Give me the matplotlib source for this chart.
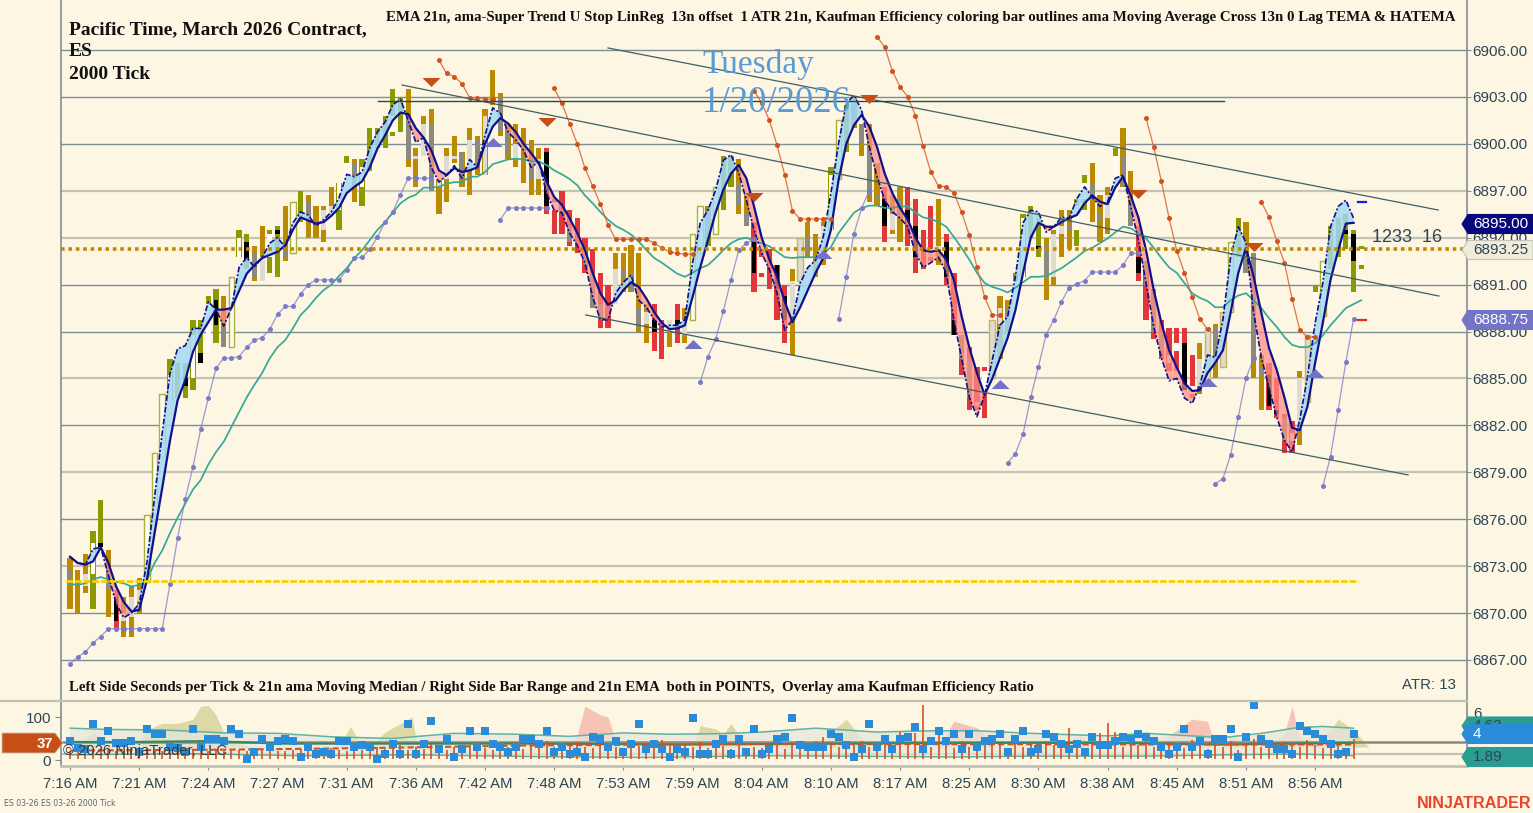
import numpy as np
import matplotlib
matplotlib.use("Agg")
import matplotlib.pyplot as plt
from matplotlib.patches import Polygon
from matplotlib.lines import Line2D

W, H = 1533, 813
BG = '#fdf6e3'
INK = '#2c4656'

times = ["7:16 AM","7:21 AM","7:24 AM","7:27 AM","7:31 AM","7:36 AM","7:42 AM","7:48 AM","7:53 AM","7:59 AM",
         "8:04 AM","8:10 AM","8:17 AM","8:25 AM","8:30 AM","8:38 AM","8:45 AM","8:51 AM","8:56 AM"]
n = float('nan')

highs = [6873.5,6872.75,6873.75,6875.25,6877.25,6874,6871.5,6871,6871.75,6872.25,
 6876.25,6880.25,6884,6886.25,6886,6886,6888.75,6888.75,6890.25,6890.75,
 6890.25,6891.5,6894.5,6894.25,6893.5,6894.75,6894.5,6894.75,6896,6896.25,
 6897,6896.75,6896,6896,6897.25,6897.5,6899.25,6899,6899,6901,
 6901,6901.75,6903.5,6903,6903.5,6899.75,6901.75,6902.25,6897.75,6899.75,
 6900.5,6899.5,6901,6900.5,6902.25,6904.75,6903.25,6901.25,6901.25,6901,
 6900.25,6899.75,6899.75,6896.5,6897,6895.75,6895.25,6894,6893.25,6891.75,
 6891,6893,6893,6893.5,6893,6889.75,6889.75,6888.75,6888.75,6889.75,
 6889.5,6894.25,6896,6896,6897.25,6899.25,6899.25,6899,6896.75,6895,
 6893.25,6893.25,6892.25,6891,6892,6894,6895,6894.25,6895,6898.5,
 6901.5,6902.5,6903,6901.25,6901.25,6898.75,6897.25,6896.75,6897.25,6897.25,
 6896.5,6894.5,6896,6896.5,6894.25,6891.75,6887.75,6887,6885.75,6885.75,
 6888.75,6890.25,6890,6891.75,6895.5,6896,6895.25,6894,6894.5,6895.75,
 6895.75,6896.5,6898,6898.75,6896.75,6897.25,6899.75,6901,6898.25,6894.75,
 6892.5,6890.75,6888.75,6888.25,6888.25,6888.25,6886.5,6887.25,6888.25,6888.5,
 6889.25,6893.75,6895.25,6895,6893,6886.5,6886,6885,6882.75,6882.25,
 6885.5,6887.75,6891,6892.5,6894.75,6895.25,6895.5,6894.5,6893.5]
lows = [6870.25,6870,6871.25,6870.25,6874.25,6869.75,6869,6868.5,6868.5,6870,
 6872,6876.25,6880,6883.5,6883.75,6883.75,6884.25,6886,6886.75,6887.25,
 6887,6887,6892.75,6892,6891.25,6891.25,6891.75,6891.5,6892.5,6893,
 6895,6894,6894,6893.75,6895.5,6894.5,6897.25,6896.25,6896,6898.25,
 6899.75,6899.75,6900.5,6900.75,6898.5,6897.25,6899.25,6897,6895.5,6896.25,
 6898.75,6897.25,6896.75,6898,6898,6902.5,6900.5,6899,6898.5,6897.5,
 6896.75,6896.75,6895.5,6894.25,6894.25,6893.5,6893,6891.75,6889.5,6888.25,
 6888.25,6889.75,6890.5,6890.5,6888,6887.25,6886.75,6886.25,6887,6887.25,
 6887.25,6888.75,6893,6893.5,6894.25,6895.75,6897.25,6895.5,6894.75,6890.5,
 6891.5,6890.75,6888.75,6887.25,6886.5,6891.25,6892.75,6891.5,6892.25,6894.5,
 6897.75,6899.5,6901,6899.25,6896.25,6896,6893.75,6894.25,6893.75,6893.5,
 6891.75,6892,6892.5,6892.25,6891,6887.75,6885.25,6883,6883,6882.5,
 6885,6886.25,6887.75,6888.25,6891.5,6894,6892.75,6890,6891,6892.75,
 6893.25,6893.5,6895.75,6895,6893.75,6894.25,6896.5,6897.25,6894.75,6891.25,
 6888.75,6887.5,6886.25,6885.5,6885.5,6884.25,6883.75,6884,6884.75,6885,
 6885.75,6889.25,6892.75,6891.75,6885,6883,6883,6882.5,6880.25,6880.25,
 6880.75,6883.5,6887,6889,6892,6892.75,6893.25,6890.5,6892]
body_hi = [6872.75,n,6872.5,6874.5,6874.5,6872.75,6871,6870,6871,6871.5,
 6876.25,6880.25,6884,6885.25,n,6885,6887.75,6886.6,6889.75,6890,
 6888.25,6891.5,6894,6893.75,6893,6892.75,6894.25,6894.5,6893.25,6896.25,
 n,6896.25,n,6895.75,6896,6897.5,6898.75,6898.75,6898.5,n,
 n,n,6901.75,n,6901.75,6899.25,6901.25,6901.25,6897.75,6899.25,
 6899.25,6899.5,6900.25,6900.25,6901.75,n,6903,6900.75,6900,n,
 6898.75,6899,6899.5,6896.25,n,6894.75,n,6893.25,6891.75,6889.75,
 n,6892,6892,6891.75,6889.5,6889.25,6888.75,n,6888.75,6888.75,
 6888.75,6894.25,6896,6895.75,6897.25,n,n,6897.5,6895.5,6893.75,
 6892.75,n,6892.25,6890.25,6891.25,6894,6894,n,6894.75,6898,
 6901.5,n,6902.5,6901.25,6899.75,6896.75,6896.5,6895.5,6896.5,6895.75,
 6894.75,n,6893.25,6893.5,6893.75,6888.75,6887.75,6886.25,6883.5,6885.5,
 6888.75,6889.5,6889.5,6891.25,6895.25,n,6893.5,6893.5,6894.25,6894.75,
 6894.75,6896,6897.5,6897.5,6895.5,6896.75,6899.25,6899.25,6896.25,6892.75,
 6892.5,6890.75,6888,6886.5,6887.25,6887.25,6884.5,6886.25,6888.25,6888.25,
 6889.25,6893.75,n,6893,6893,6885.75,6885.25,6883,6882.5,6881.5,
 6885,6887.75,6890.5,6892.5,n,n,6894.5,6894.25,6893.25]
body_lo = [6871.75,n,6871.75,6872.5,6874.25,6871.5,6869.5,6869.5,6869.75,6870.75,
 6872,6876.25,6880,6883.5,n,6884.5,6885,6886,6886.75,6888.4,
 6887,6887,6892.75,6892.5,6891.5,6891.25,6892.75,6894.25,6892.75,6893,
 n,6895,n,6894.5,6895.5,6895.75,6897.25,6897.5,6897.25,n,
 n,n,6900.75,n,6899,6899,6899.25,6897,6897.25,6897.75,
 6899,6897.75,6898.5,6898.5,6898,n,6900.75,6899.25,6899,n,
 6897.75,6897.75,6896,6895.75,n,6893.75,n,6892.25,6889.5,6888.75,
 n,6889.75,6891.5,6890.5,6888.25,6888.5,6888,n,6888,6888.25,
 6887.75,6888.75,6893,6894,6894.25,n,n,6896,6894.75,6891.75,
 6891.75,n,6890.75,6888.75,6888.75,6891.25,6893,n,6893.25,6894.5,
 6897.75,n,6901.25,6900,6896.75,6896.5,6894.75,6894.5,6895.25,6895,
 6892.75,n,6892.75,6893.25,6891.5,6887.75,6886.25,6883.75,6883.25,6884,
 6885,6888.5,6888.5,6888.25,6891.5,n,6893.25,6891.5,6891.5,6894.25,
 6894.5,6894.5,6896.5,6896.5,6895,6895.25,6896.5,6897.25,6894.75,6891.75,
 6891,6888,6886.75,6886,6886.75,6884.25,6884,6884.5,6884.75,6886.25,
 6885.75,6889.25,n,6891.75,6886.5,6885.25,6883.25,6882.75,6881,6881,
 6881.75,6883.5,6887,6889,n,n,6894.25,6892.5,6892.25]
outline = ("GGGOOGRGGG" "OOOOOOOOOO" "GOOOGGOOGO" "OGGGGOOGOO" "OOOOGGGGGG"
           "GGGGGGGGGG" "GGRRRRRRRR" "RGGGGGRRGR" "GOOOOOOGGR" "RRRRGGGGGO"
           "OOGGGGRGGR" "RRRGRRRRRR" "GGGOOOOGGG" "GOOGGGOGGR" "RRRRRRRGGG"
           "GOOGGGRRRR" "GGOOOOOOO")
fill_kind = ("g-lwkgklll" "wwww-kwkwk" "gwwkglwkgw" "-g-llwwgw-" "--w-gllgll"
             "lglgl-ggl-" "glkw-g-ggg" "-lggglk-lk" "lwwgw--ggk" "w-kkllg-lw"
             "w-ggggklgk" "k-llkkgglw" "llgww-kgll" "gwwgglwggk" "ggglwkwllg"
             "lw-gggkkgl" "llww--kkw")

tema = [6873.6,6873.2,6873.1,6873.3,6874.2,6873.2,6871.7,6870.7,6870.1,6870.2,
 6872.1,6875.1,6878,6881,6883.6,6884.9,6886.7,6887.8,6888.6,6889.4,
 6889.4,6889.5,6890.6,6891.7,6892.25,6892.7,6892.9,6893.1,6893.5,6894.5,
 6895.3,6895.1,6894.9,6895,6895.4,6895.9,6896.85,6897.25,6897.6,6898.5,
 6899.7,6900.55,6901.5,6902,6901.9,6901,6900.4,6899.6,6898.3,6898,
 6898.45,6898.2,6898.3,6898.5,6900,6901.1,6901.65,6901.3,6900.75,6900,
 6899.4,6898.75,6897.6,6896.6,6896.1,6895.25,6894.3,6893.2,6891.75,6890.45,
 6889.7,6890,6890.65,6891.15,6890.85,6890.1,6889.25,6888.55,6888.15,6888.2,
 6888.4,6890.2,6892.1,6893.85,6895.6,6897.05,6898.1,6898.65,6897.8,6896,
 6894,6892.6,6891.5,6889.9,6888.6,6889.55,6890.65,6891.75,6892.7,6894.5,
 6897.7,6900,6901.2,6901.85,6901.1,6899.8,6898.1,6896.85,6895.9,6895.15,
 6894,6893.2,6893.1,6893.2,6892.6,6891.3,6889,6887,6885.35,6883.95,
 6885,6886.3,6887.6,6889.35,6891.75,6894,6894.95,6894.7,6894.7,6895,
 6895.25,6895.45,6896.2,6896.7,6896.3,6896.15,6897.2,6897.9,6896.7,6895.3,
 6893.2,6890.65,6888.55,6886.8,6885.7,6884.7,6884.2,6884.25,6885.35,6886,
 6886.8,6889.2,6891.75,6893.35,6891.5,6889.2,6886.95,6885.55,6883.8,6881.85,
 6881.7,6883.2,6886,6888.55,6891.3,6893.2,6894.9,6894.95]
hatema = [6873.6,6873.2,6873.1,6874.1,6874.2,6872.4,6870.6,6869.7,6870,6870.6,
 6873.2,6877.4,6881.5,6885.3,6886.9,6887.1,6888.2,6888.2,6889.9,6889.4,
 6888.35,6889.5,6892.1,6892.75,6892.1,6892.75,6893.65,6894,6893.4,6894.95,
 6895.65,6895.45,6894.75,6895.15,6895.65,6896.55,6898.05,6897.9,6898.2,6899.75,
 6900.75,6901.4,6902.5,6902.85,6901.5,6900.1,6900.4,6898.5,6897.55,6898,
 6898.6,6897.8,6899,6898.5,6900.55,6902.3,6901.95,6900.75,6900.25,6899.6,
 6898.5,6898.85,6896.85,6895.75,6895.6,6894.3,6893.5,6892.4,6890.2,6888.75,
 6888.75,6890.45,6891.15,6891.6,6890,6889.55,6888.75,6888.3,6888.4,6888.4,
 6888.75,6892.4,6894.95,6895.75,6897.05,6898.95,6899.3,6898.15,6896.4,6894.5,
 6893,6891.95,6890.45,6888.1,6888.75,6891.1,6892.1,6892.55,6894.05,6896.85,
 6900.05,6902.6,6903.1,6902.15,6899.8,6897.9,6896.4,6895.65,6895.25,6894.7,
 6893,6892.1,6892.4,6892.75,6891.75,6888.75,6886.3,6883.8,6882.55,6883.95,
 6886.2,6888.4,6888.95,6891.5,6894.95,6895.75,6895.65,6894.35,6894.7,6895.3,
 6895.25,6896.5,6897.25,6896.6,6896,6896.3,6897.8,6898,6896,6893.85,
 6891.1,6888.3,6886.3,6884.85,6885,6883.75,6883.4,6884.55,6886.5,6886.35,
 6888.75,6892.75,6894.7,6893.7,6889.2,6886.35,6884.4,6882.55,6881.05,6880.3,
 6882.35,6885.1,6888.55,6891.1,6894.7,6896,6896.4,6895.25]
ema = [6871.85,6871.8,6871.9,6872.15,6872.3,6872.15,6872,6871.9,6871.7,6871.8,
 6872.1,6873.2,6874,6875.1,6876.1,6877,6877.9,6878.5,6879.5,6880.3,
 6880.95,6881.9,6882.85,6883.8,6884.6,6885.35,6886.3,6887,6887.45,6888.2,
 6889.05,6889.55,6890.15,6890.65,6891,6891.55,6892.05,6892.7,6893.2,6893.85,
 6894.5,6895,6895.6,6896.2,6896.55,6896.75,6897.2,6897.2,6897.25,6897.45,
 6897.55,6897.55,6897.9,6897.9,6898.2,6898.7,6898.85,6899,6899.05,6899,
 6898.9,6898.85,6898.65,6898.3,6898.05,6897.75,6897.35,6896.7,6896.2,6895.65,
 6895.15,6894.75,6894.5,6894.2,6893.75,6893.2,6892.7,6892.4,6892.05,6891.7,
 6891.5,6891.75,6892.05,6892.25,6892.7,6893.2,6893.65,6893.9,6894,6893.8,
 6893.65,6893.45,6893.1,6892.75,6892.7,6892.75,6892.75,6892.75,6892.95,6893.4,
 6894.3,6894.95,6895.6,6895.9,6896.05,6896.05,6895.9,6895.9,6896,6896,
 6895.6,6895.3,6895.2,6895,6894.7,6894.05,6893.35,6892.6,6891.75,6891.1,
 6890.85,6890.7,6890.5,6890.8,6891.15,6891.5,6891.5,6891.55,6891.8,6892.05,
 6892.4,6892.75,6893.15,6893.35,6893.65,6893.95,6894.35,6894.7,6894.6,6894.3,
 6893.95,6893.35,6892.7,6892.1,6891.75,6891.1,6890.45,6890.15,6889.95,6889.55,
 6889.55,6890,6890.3,6890.45,6890,6889.5,6888.85,6888.3,6887.65,6887.15,
 6887,6887,6887.25,6887.75,6888.4,6888.95,6889.5,6889.75,6890]

stop_up = [
 (0, [6866.75,6867.2,6867.5,6868.1,6868.5,6869,6869,6869,6869,6869,6869,6869,6869,6871.85,6874.8,
      6877.3,6879.35,6881.75,6883.75,6885.65,6886.3,6886.3,6886.4,6887,6887.45,6887.6,6888.15,6889.1,6889.6,6889.6,
      6890.4,6891,6891.3,6891.3,6891.3,6891.3,6891.95,6892.7,6892.75,6893.25,6894.05,6895,6895.65,6896.75,6897.8,6897.8,6897.8,6897.8]),
 (56, [6895.15,6895.9,6895.9,6895.9,6895.9,6895.9,6895.9]),
 (82, [6884.75,6886.4,6887.5,6889.3,6891.3,6893.2,6893.65,6893.9]),
 (100, [6888.8,6891.5,6894.25,6895.9,6897]),
 (122, [6879.6,6880.2,6881.45,6883.8,6885.75,6887.8,6888.75,6889.9,6890.8,6891.05,6891.25,6891.8,6891.8,6891.8,6891.8,6892.25,6893,6893]),
 (149, [6878.25,6878.6,6880.1,6882.55,6885,6886.3]),
 (163, [6878.1,6880,6883,6886.05,6888.8]),
]
stop_dn = [
 (48, [6905.35,6904.5,6904.3,6903.85,6902.95,6902.95,6902.85,6902.85]),
 (63, [6903.55,6902.6,6901.3,6900,6898.45,6897.3,6896.15,6894.8,6893.9,6893.9,6893.9,6893.9,6893.9,6893.65,6893.35,6893.1,6893,6892.95,6892.95]),
 (89, [6903.4,6902.6,6901.5,6899.9,6898,6895.7,6895.2,6895.2,6895.2,6895.2,6895.2]),
 (105, [6906.85,6906.2,6904.65,6903.65,6903,6901.8,6899.85,6898.2,6897.3,6897.25,6896.85,6895.65,6894.15,6892.1,6890.2,6889.05,6889.05]),
 (140, [6901.65,6899.8,6897.6,6895.25,6893.15,6891.75,6890.2,6888.8,6888.15]),
 (155, [6896.3,6895.3,6893.8,6892.4,6890.1,6888.1,6887.65,6887.65]),
]
tri_dn_x = [47,62,89,104,139,154]
tri_dn_y = [6903.95,6901.4,6896.6,6902.85,6896.8,6893.4]
tri_up_x = [55,81,98,121,148,162]
tri_up_y = [6900.1,6887.2,6892.95,6884.65,6884.8,6885.35]

channels = [((70,178.0),(6906.13,6895.77)), ((43.2,178.1),(6903.76,6890.27)), ((67.1,174.1),(6889.06,6878.83))]
level_high = ((40.1,150.1),(6902.74,6902.74))
price_last = 6893.25
price_mark = 6872.05

squares = [44,27,25,84,44,67,39,39,44,19,
 73,60,60,31,27,19,73,31,49,49,
 44,73,60,1.5,19,49,31,44,49,44,
 6,31,15,19,15,44,44,31,35,31,
 1.5,15,36.5,15,84,15,36.5,91,25,49,
 6,25,67,31,67,36.5,31,19,31,49,
 49,36.5,67,19,31,15,19,6,54,49,
 31,44,19,36.5,84,25,36.5,25,6,25,
 19,97,15,15,36.5,49,15,49,19,73,
 15,25,49,54,97,35,31,31,31,60,
 54,35,6,25,84,31,49,25,49,54,
 77.5,25,44,67,44,60,25,60,31,44,
 49,60,19,49,67,19,25,60,54,36.5,
 25,36.5,19,54,35,35,44,54,49,60,
 54,44,31,15,31,73,31,44,15,49,
 49,73,6,54,127,49,36.5,25,25,15,
 79,67,60,49,36.5,15,19,60]
stems = [22,20,24,22,26,24,22,20,24,22,
 24,22,20,24,22,26,24,22,20,24,
 22,26,24,20,22,24,26,22,20,24,
 26,22,24,20,28,24,22,26,24,28,
 30,26,28,36,24,30,26,38,28,24,
 30,26,34,42,28,24,36,30,42,26,
 34,28,44,30,26,36,42,30,28,34,
 40,30,26,44,32,36,28,46,34,26,
 36,30,42,28,38,32,26,36,24,30,
 28,40,36,26,42,38,30,44,53,38,
 30,26,36,44,30,38,42,28,65,40,
 62,128,30,58,36,28,44,30,40,36,
 46,34,26,42,30,38,28,44,36,30,
 74,34,26,44,62,86,65,30,42,36,
 44,30,26,40,36,28,46,34,26,42,
 30,44,24,36,48,30,38,28,42,34,
 30,46,36,28,44,34,26,50]
band_top_x = [0,5,12,20,27,34,42,50,58,65,72,78,84,90,97,105,112,118,125,135,140,150,155,160,163,167]
band_top_y = [74,71,70,63,62,54,50,62,60,55,63,60,61,65,74,65,68,68,62,56,62,52,62,76,78,74]
band_low_x = [0,15,30,45,60,75,90,100,115,125,140,150,160,167]
band_low_y = [12,15,10,12,8,6,10,9,7,9,9,12,14,10]
green_x = [0,8,18,28,45,60,80,100,120,135,150,167]
green_y = [42,42,44,38,38,38,36,38,40,40,36,40]
range_ema_x = [0,20,40,60,85,110,140,167]
range_ema_y = [22,24,28,34,37,37,36,36]
khaki_x = [0,1,3,5,9,10,12,14,16,17,18,19,20,21,24,35,36.5,38,39,41,43,44.5,45,46,81,82,84,85,86,88,98,99,101,103,104,130,131.5,133,150,151,153,162,164,165,167,169]
khaki_y = [30,30,65,30,40,70,85,85,95,125,127,105,65,40,30,30,78,30,30,65,85,100,50,30,30,80,72,60,85,30,30,65,95,50,30,30,55,30,30,55,30,30,70,95,70,30]
pink_x = [61,62,63,65,66,67,69,70,71,72,90,91,92,93,94,95,113,115,118,119,120,141,144,146,148,149,156,158,159,160,162,163]
pink_y = [30,48,30,30,60,125,105,100,45,30,30,45,50,70,40,30,30,90,75,60,30,30,70,95,90,30,30,60,125,50,40,30]

y_ticks = [6867,6870,6873,6876,6879,6882,6885,6888,6891,6894,6897,6900,6903,6906]
light_grid = {6897,6885,6873,6879,6894}

plt.rcParams['font.family'] = ['Liberation Sans','DejaVu Sans']
fig = plt.figure(figsize=(W/100,H/100),dpi=100,facecolor=BG)
def rect(x0,y0,x1,y1):
    return [x0/W,1-y1/H,(x1-x0)/W,(y1-y0)/H]
def fx(x): return x/W
def fy(y): return 1-y/H

SP = '#7f8f95'
LBL = 11
ax = fig.add_axes(rect(61,0,1467,701),facecolor=BG)
ax.set_xlim((61-70)/7.686,(1467-70)/7.686)
ax.set_ylim(6906-(701-50)/15.64,6906+50/15.64)
for s in ['top','bottom']: ax.spines[s].set_visible(False)
for s in ['left','right']: ax.spines[s].set_color(SP); ax.spines[s].set_linewidth(1.2)
ax.yaxis.tick_right()
ax.set_yticks(y_ticks)
ax.set_yticklabels([f"{v:.2f}" for v in y_ticks],fontsize=LBL,color=INK)
ax.tick_params(axis='y',length=3,color=SP,pad=1)
ax.set_xticks([])
for v in y_ticks:
    ax.axhline(v,color='#c3c4b6' if v in light_grid else '#7d8e95',lw=1.6 if v in light_grid else 1.0,zorder=1)

OC = {'G':'#bb8a00','O':'#8a9a00','R':'#e2363a'}
FC = {'w':'#fffdf3','k':'#000000','g':'#8b8a7e','l':'#dedbcf'}
idx = np.arange(169)
ax.bar(idx,np.array(highs)-np.array(lows),bottom=lows,width=0.68,color=[OC[c] for c in outline],linewidth=0,zorder=2)
for i in idx:
    f = fill_kind[i]
    if f in FC and not np.isnan(body_hi[i]):
        full = body_hi[i]>=highs[i] and body_lo[i]<=lows[i]
        if full:
            ec = {'G':'#c9b468','O':'#a9b13a','R':'#e2363a'}[outline[i]]
            ax.bar(i,body_hi[i]-body_lo[i],bottom=body_lo[i],width=0.74,color=FC[f],edgecolor=ec,linewidth=1.0,zorder=2.5)
        else:
            ax.bar(i,body_hi[i]-body_lo[i],bottom=body_lo[i],width=0.62,color=FC[f],linewidth=0,zorder=2.5)

t_idx = np.arange(168)
t = np.array(tema); ha = np.array(hatema)
ax.fill_between(t_idx,t,ha,where=ha>=t,interpolate=True,color='#a3d9f5',alpha=0.84,linewidth=0,zorder=3)
ax.fill_between(t_idx,t,ha,where=ha<=t,interpolate=True,color='#ff8f84',alpha=0.72,linewidth=0,zorder=3)

ax.plot(idx,ema,color='#36a898',lw=1.25,zorder=4)
ax.plot(t_idx,hatema,color='#10108a',lw=1.2,ls=(0,(3.5,1.2,1.2,1.2)),zorder=5)
ax.plot(t_idx,tema,color='#10108a',lw=1.6,zorder=5)

for st,vals in stop_up:
    ax.plot(range(st,st+len(vals)),vals,color='#7a7ac8',lw=0.9,alpha=0.75,zorder=5.2)
    ax.plot(range(st,st+len(vals)),vals,ls='none',marker='o',ms=3.6,color='#7a7ac8',mew=0,zorder=5.3)
for st,vals in stop_dn:
    ax.plot(range(st,st+len(vals)),vals,color='#d8612c',lw=0.9,alpha=0.85,zorder=5.2)
    ax.plot(range(st,st+len(vals)),vals,ls='none',marker='o',ms=3.6,color='#d2521f',mew=0,zorder=5.3)

dn_m = [(-1,0.5),(1,0.5),(0,-0.5)]
up_m = [(-1,-0.5),(1,-0.5),(0,0.5)]
ax.plot(tri_dn_x,tri_dn_y,ls='none',marker=dn_m,ms=13,color='#c94d18',mew=0,zorder=6)
ax.plot(tri_up_x,tri_up_y,ls='none',marker=up_m,ms=13,color='#7272c6',mew=0,zorder=6)

for xs,ys in channels:
    ax.plot(xs,ys,color='#3f5f62',lw=0.9,zorder=5.5)
ax.plot(level_high[0],level_high[1],color='#1c4f52',lw=1.0,zorder=5.5)
ax.axhline(price_last,color='#c08a00',lw=2.6,ls=(0,(1,1.05)),zorder=5.6)
ax.plot([-0.5,167.6],[price_mark,price_mark],color='#f7cf00',lw=2.0,ls=(0,(2.4,0.7)),zorder=5.6)
ax.plot([167.6,168.6],[6896.3,6896.3],color='#1a1ae0',lw=1.6,zorder=6)
ax.plot([167.6,168.6],[6888.75,6888.75],color='#ef2020',lw=1.6,zorder=6)

serif = ['Liberation Serif','DejaVu Serif']
for yy,s in [(29.5,"Pacific Time, March 2026 Contract,"),(51.5,"ES"),(74.5,"2000 Tick")]:
    fig.text(fx(69),fy(yy),s,family=serif,fontweight='bold',fontsize=14,color='#111111',va='center',zorder=8)
fig.text(fx(1456),fy(17.5),"EMA 21n, ama-Super Trend U Stop LinReg  13n offset  1 ATR 21n, Kaufman Efficiency coloring bar outlines ama Moving Average Cross 13n 0 Lag TEMA & HATEMA",
         family=serif,fontweight='bold',fontsize=10.7,color='#111111',ha='right',va='center',zorder=8)
fig.text(fx(69),fy(687),"Left Side Seconds per Tick & 21n ama Moving Median / Right Side Bar Range and 21n EMA  both in POINTS,  Overlay ama Kaufman Efficiency Ratio",
         family=serif,fontweight='bold',fontsize=10.75,color='#111111',va='center',zorder=8)
fig.text(fx(1456),fy(685),"ATR: 13",fontsize=10.8,color=INK,ha='right',va='center',zorder=8)
fig.text(fx(702),fy(65),"Tuesday",family=serif,fontsize=24,color='#5b9bd5',va='center',zorder=8)
fig.text(fx(702),fy(103),"1/20/2026",family=serif,fontsize=26.5,color='#5b9bd5',va='center',zorder=8)
fig.text(fx(1372),fy(237),"1233  16",fontsize=13,color=INK,va='center',zorder=8)

# lower panel
v2y = 0.43
ax2 = fig.add_axes(rect(61,701,1467,766),facecolor=BG)
ax2.set_xlim(ax.get_xlim())
ax2.set_ylim(-6/v2y,59/v2y)
ax2.spines['top'].set_visible(False)
ax2.spines['bottom'].set_color('#c0c2b4'); ax2.spines['bottom'].set_linewidth(2)
for s in ['left','right']: ax2.spines[s].set_color(SP); ax2.spines[s].set_linewidth(1.2)
ax2.set_yticks([0,100]); ax2.set_yticklabels(['0','100'],fontsize=LBL,color=INK)
ax2.tick_params(axis='y',length=4,color=SP,pad=3)
ax2.set_xticks(np.arange(len(times))*9)
ax2.set_xticklabels(times,fontsize=10.7,color=INK)
ax2.tick_params(axis='x',length=3,color=SP,pad=5)
ax2.axhline(14,color='#c0c2b4',lw=1.6,zorder=1)
base = 30
ax2.fill_between(khaki_x,base,khaki_y,color='#dcd9a6',lw=0,zorder=2)
ax2.fill_between(pink_x,base,pink_y,color='#f6c4b6',lw=0,zorder=2)
ax2.fill(band_top_x+band_low_x[::-1],band_top_y+band_low_y[::-1],color='#e6e6dc',alpha=0.75,lw=0,zorder=2.2)
ax2.axhline(42,color='#8c8a78',lw=1.8,zorder=2.5)
ax2.plot(band_top_x,band_top_y,color='#5fb3a3',lw=1.1,zorder=3)
ax2.plot(band_low_x,band_low_y,color='#5fb3a3',lw=1.1,zorder=3)
ax2.plot(green_x,green_y,color='#2e8a60',lw=1.5,zorder=3)
ax2.vlines(t_idx,2,stems,color='#d2521f',lw=1.2,zorder=3.5)
ax2.plot(range_ema_x,range_ema_y,color='#d2521f',lw=1.5,ls=(0,(3,1.5)),zorder=3.6)
ax2.plot(t_idx,squares,ls='none',marker='s',ms=5.6,color='#2a8bd8',mew=0,zorder=4)

fig.add_artist(Line2D([0,fx(1467)],[fy(701),fy(701)],color='#c0c2b4',lw=1.6,zorder=2))
fig.text(fx(63),fy(751),"\u00a9 2026 NinjaTrader, LLC",fontsize=10.6,color='#3a3a3a',va='center',zorder=9)

def tag(y,fc,ec=None,h=19,x0=1462,x1=1533,z=7):
    pts = [(x0,y),(x0+6,y-h/2),(x1,y-h/2),(x1,y+h/2),(x0+6,y+h/2)]
    fig.add_artist(Polygon([(fx(a),fy(b)) for a,b in pts],closed=True,transform=fig.transFigure,facecolor=fc,edgecolor=ec or fc,lw=0.8,zorder=z))
def tagtxt(y,s,c,x=1473,z=8):
    fig.text(fx(x),fy(y),s,fontsize=LBL,color=c,va='center',zorder=z)
tag(224,'#08087c'); tagtxt(224,"6895.00",'white')
tag(250,'#f1ebdb','#c4c4b4'); tagtxt(250,"6893.25",INK)
tag(320,'#7474c6'); tagtxt(320,"6888.75",'white')
fig.text(fx(1473),fy(714),"6",fontsize=LBL,color=INK,va='center',zorder=6)
tag(726,'#2a9d90',h=18,z=7); tagtxt(726,"4.63",INK,z=7.1)
tag(757,'#2a9d90',h=19,z=7); tagtxt(757,"1.89",INK,z=7.1)
tag(734,'#2a8bd8',h=19,z=7.5); tagtxt(734,"4",'white',z=8)
pts = [(2,733),(55,733),(63,743),(55,753),(2,753)]
fig.add_artist(Polygon([(fx(a),fy(b)) for a,b in pts],closed=True,transform=fig.transFigure,facecolor='#c94e16',edgecolor='#c0c2b4',lw=0.6,zorder=7))
fig.text(fx(45),fy(744),"37",fontsize=10.6,color='white',fontweight='bold',ha='center',va='center',zorder=8)

fig.text(fx(4),fy(803.5),"ES 03-26 ES 03-26 2000 Tick",family=['DejaVu Sans'],fontsize=5.6,color='#5a6a70',va='center',zorder=8)
fig.text(fx(1532),fy(803),"NINJATRADER",fontsize=11.6,fontweight='bold',color='#e8452a',ha='right',va='center',zorder=8)

fig.savefig('out.png',dpi=100,facecolor=BG)
